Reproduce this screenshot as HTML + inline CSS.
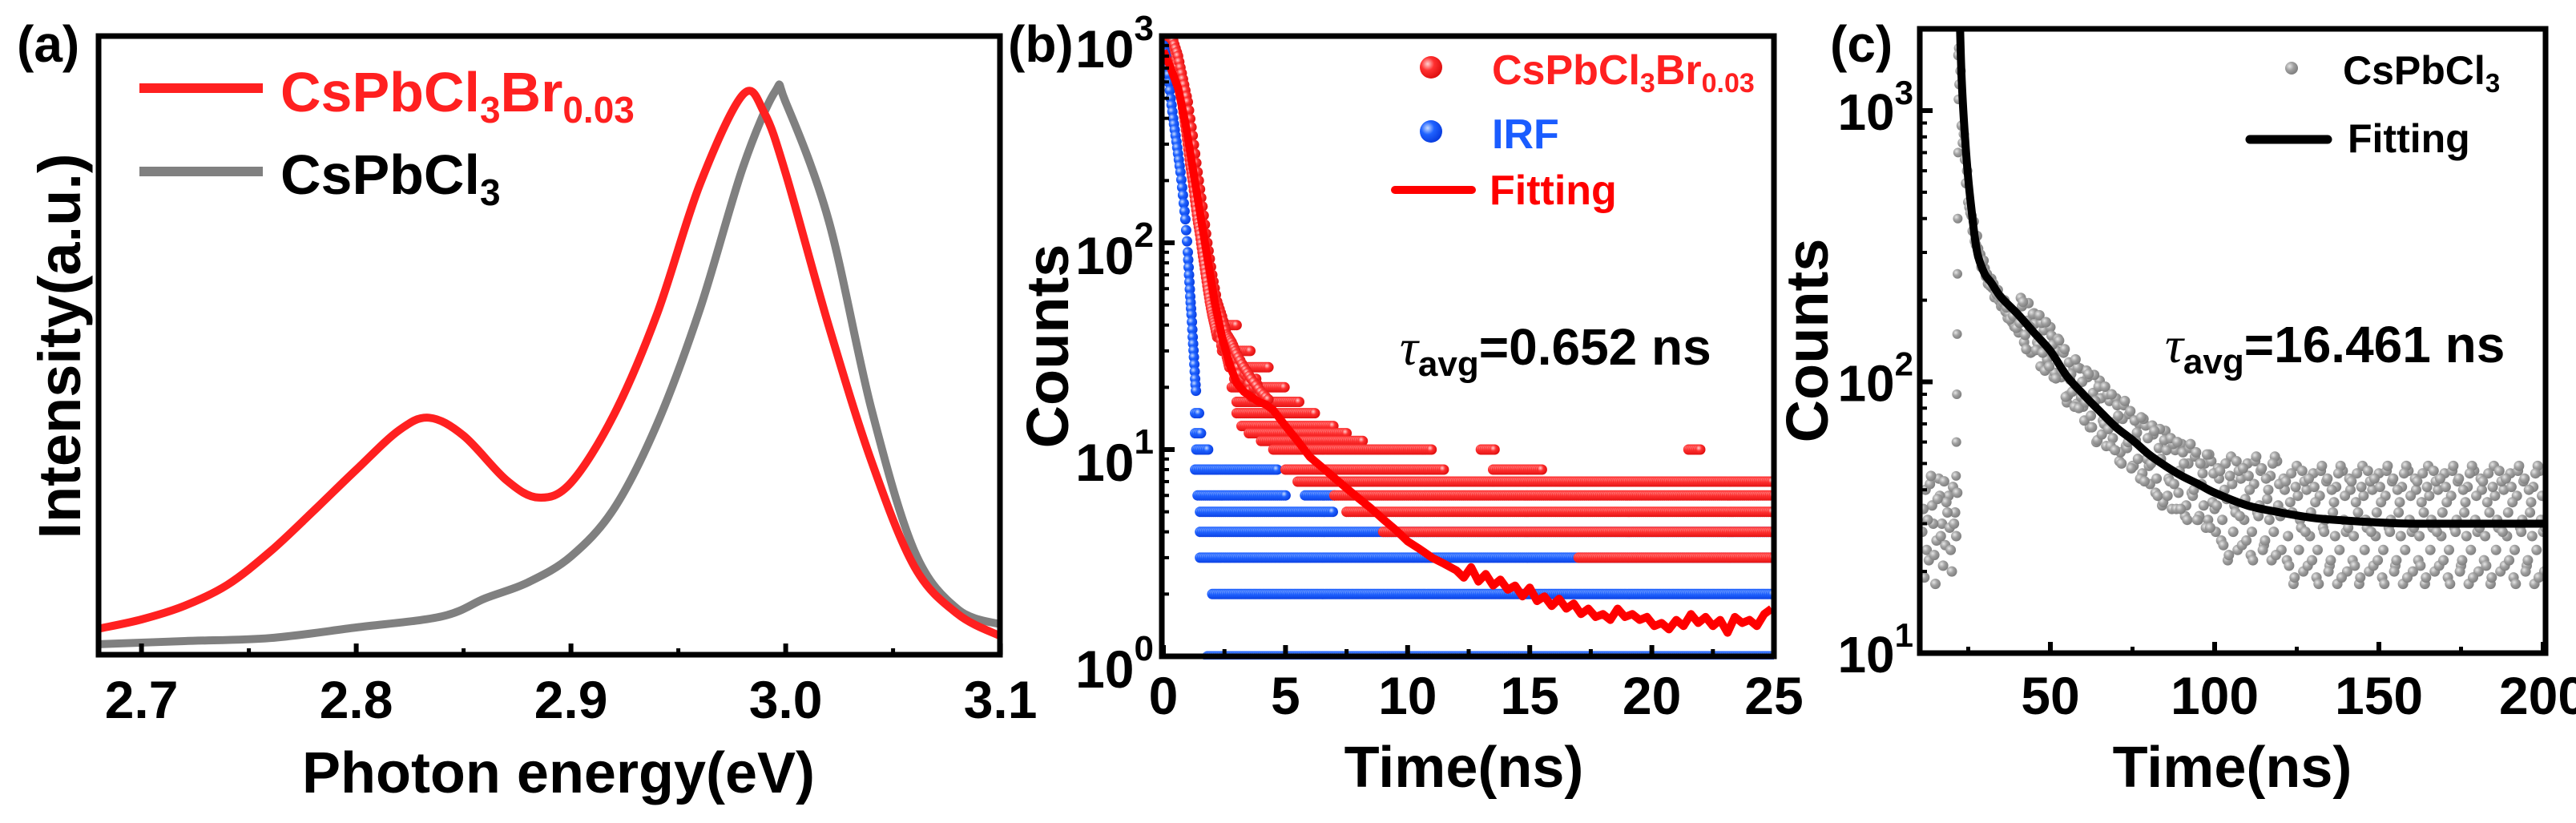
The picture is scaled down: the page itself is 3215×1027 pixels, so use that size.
<!DOCTYPE html>
<html><head><meta charset="utf-8"><style>
html,body{margin:0;padding:0;background:#fff;}
svg{display:block;font-family:"Liberation Sans",Arial,sans-serif;font-weight:bold;}
</style></head><body>
<svg id="fig" width="3215" height="1027" viewBox="0 0 3215 1027" xmlns="http://www.w3.org/2000/svg">
<defs>
<radialGradient id="gR" cx="35%" cy="35%" r="65%"><stop offset="0" stop-color="#ffd0d0"/><stop offset="0.45" stop-color="#ff3030"/><stop offset="1" stop-color="#e01010"/></radialGradient>
<radialGradient id="gB" cx="35%" cy="35%" r="65%"><stop offset="0" stop-color="#c8dcff"/><stop offset="0.45" stop-color="#1f62ff"/><stop offset="1" stop-color="#0a3ee0"/></radialGradient>
<radialGradient id="gG" cx="35%" cy="35%" r="65%"><stop offset="0" stop-color="#e6e6e6"/><stop offset="0.5" stop-color="#a0a0a0"/><stop offset="1" stop-color="#808080"/></radialGradient>
<clipPath id="clipA"><rect x="123" y="45" width="1125" height="772"/></clipPath>
<clipPath id="clipB"><rect x="1450" y="45" width="764" height="778"/></clipPath>
<clipPath id="clipC"><rect x="2396" y="36" width="781" height="779"/></clipPath>
</defs>

<g>
<text x="21" y="77" font-size="64">(a)</text>
<g id="seriesA" clip-path="url(#clipA)"></g>
<g id="ticksA"></g>
<rect x="123" y="45" width="1125" height="772" fill="none" stroke="#000" stroke-width="7"/>
<text transform="translate(100,432) rotate(-90)" text-anchor="middle" font-size="74">Intensity(a.u.)</text>
<text x="697" y="989" text-anchor="middle" font-size="72">Photon energy(eV)</text>
<line x1="174" y1="110" x2="328" y2="110" stroke="#ff2020" stroke-width="12"/>
<text x="350" y="139" font-size="70" fill="#ff2020">CsPbCl<tspan font-size="46" dy="14">3</tspan><tspan dy="-14">Br</tspan><tspan font-size="46" dy="14">0.03</tspan></text>
<line x1="174" y1="214" x2="328" y2="214" stroke="#808080" stroke-width="12"/>
<text x="350" y="242" font-size="70" fill="#000">CsPbCl<tspan font-size="46" dy="14">3</tspan></text>
</g>

<g>
<text x="1258" y="77" font-size="64">(b)</text>
<g id="seriesB" clip-path="url(#clipB)"></g>
<g id="ticksB"></g>
<rect x="1450" y="45" width="764" height="774" fill="none" stroke="#000" stroke-width="7"/>
<text transform="translate(1333,432) rotate(-90)" text-anchor="middle" font-size="74">Counts</text>
<text x="1827" y="982" text-anchor="middle" font-size="72">Time(ns)</text>
<circle cx="1786" cy="84" r="14" fill="url(#gR)"/>
<text x="1862" y="105" font-size="52" fill="#ff2020">CsPbCl<tspan font-size="34" dy="10">3</tspan><tspan dy="-10">Br</tspan><tspan font-size="34" dy="10">0.03</tspan></text>
<circle cx="1786" cy="164" r="14" fill="url(#gB)"/>
<text x="1862" y="185" font-size="52" fill="#1a5cff">IRF</text>
<line x1="1741" y1="237" x2="1837" y2="237" stroke="#ff0000" stroke-width="10" stroke-linecap="round"/>
<text x="1859" y="255" font-size="52" fill="#ff0000">Fitting</text>
<text x="1747" y="455" font-size="64"><tspan font-family="Liberation Serif" font-style="italic" font-weight="normal">τ</tspan><tspan font-size="44" dy="14">avg</tspan><tspan dy="-14">=0.652 ns</tspan></text>
</g>

<g>
<text x="2284" y="77" font-size="64">(c)</text>
<g id="seriesC" clip-path="url(#clipC)"></g>
<g id="ticksC"></g>
<rect x="2396" y="36" width="781" height="779" fill="none" stroke="#000" stroke-width="7"/>
<text transform="translate(2281,425) rotate(-90)" text-anchor="middle" font-size="74">Counts</text>
<text x="2786" y="982" text-anchor="middle" font-size="72">Time(ns)</text>
<circle cx="2860" cy="85" r="8" fill="url(#gG)"/>
<text x="2924" y="105" font-size="50" fill="#000">CsPbCl<tspan font-size="33" dy="10">3</tspan></text>
<line x1="2808" y1="174" x2="2905" y2="174" stroke="#000" stroke-width="11" stroke-linecap="round"/>
<text x="2930" y="190" font-size="50" fill="#000">Fitting</text>
<text x="2702" y="452" font-size="64"><tspan font-family="Liberation Serif" font-style="italic" font-weight="normal">τ</tspan><tspan font-size="44" dy="14">avg</tspan><tspan dy="-14">=16.461 ns</tspan></text>
</g>
</svg>
<script>
// ---------- Panel (a) data ----------
const plEnergy = [2.68,2.70,2.72,2.74,2.76,2.78,2.80,2.82,2.834,2.85,2.87,2.885,2.90,2.92,2.94,2.96,2.98,2.99,3.00,3.02,3.04,3.06,3.08,3.10];
const plRed    = [0.042,0.057,0.079,0.113,0.167,0.232,0.299,0.363,0.383,0.354,0.282,0.254,0.278,0.388,0.55,0.76,0.905,0.876,0.778,0.532,0.312,0.142,0.066,0.03];
const plGrayEnergy = [2.68,2.72,2.76,2.80,2.84,2.86,2.88,2.90,2.92,2.94,2.96,2.98,2.995,3.00,3.02,3.04,3.06,3.08,3.10];
const plGray   = [0.017,0.022,0.027,0.044,0.062,0.091,0.117,0.159,0.236,0.372,0.558,0.787,0.91,0.893,0.702,0.396,0.167,0.074,0.049];
const aTicks = [2.7,2.8,2.9,3.0,3.1];
const aTickLabels = ["2.7","2.8","2.9","3.0","3.1"];

// ---------- Panel (b) data ----------
const redEarlyT = [0.0,0.1,0.2,0.3,0.4,0.5,0.6,0.7,0.8,0.9,1.0,1.1,1.2,1.3,1.4,1.5,1.6,1.7,1.8,1.9,2.0,2.1,2.2,2.3,2.4,2.5,2.6,2.7,2.8,2.9,3.0,3.2,3.4,3.6,3.8,4.0];
const redEarlyC = [700,950,1000,980,900,800,680,560,450,370,300,240,200,160,130,110,90,75,62,52,45,40,35,38,30,34,28,25,30,22,27,20,24,18,22,17];
const redEarly2T = [0.2,0.4,0.6,0.8,1.0,1.2,1.4,1.6,1.8,2.0,2.2,2.4,2.6,2.8,3.0,3.3,3.6,4.0,4.4];
const redEarly2C = [1000,950,800,620,480,330,220,150,100,70,52,44,36,33,29,25,22,19,17];
const redRowC  = [40,30,25,20,17,15,13,12,11,10,10,10,8,8,7,7,6,5,4,3];
const redRowT0 = [2.6,2.6,2.7,2.8,3.0,3.0,3.2,3.5,4.0,4.5,13.0,21.5,5.0,13.5,5.5,13.5,7.0,7.5,9.0,17.0];
const redRowT1 = [3.0,3.6,4.3,5.0,5.6,6.2,7.0,7.5,8.2,11.0,13.6,22.0,11.5,15.5,13.5,25.0,25.0,25.0,25.0,25.0];
const irfEarlyT = [0.0,0.1,0.2,0.3,0.4,0.5,0.6,0.7,0.8,0.9,1.0,1.05,1.1,1.15,1.2,1.25,1.3,1.35];
const irfEarlyC = [900,800,650,500,400,330,270,220,170,130,90,70,55,45,35,28,22,18];
const irfRowC  = [15,12,10,8,6,6,5,4,3,2,1];
const irfRowT0 = [1.3,1.3,1.35,1.3,1.4,5.8,1.5,1.5,1.5,2.0,1.8];
const irfRowT1 = [1.5,1.6,1.9,4.7,5.0,7.0,7.0,25.0,25.0,25.0,25.0];
const fitBT = [0,0.3,0.6,0.9,1.2,1.5,1.8,2.1,2.4,2.7,3.0,3.3,3.6,3.9,4.2,4.5,5.0,5.5,6.0,6.5,7.0,7.5,8.0,8.5,9.0,9.5,10.0,10.5,11.0,11.5,12.0,12.3,12.6,12.9,13.2,13.5,13.8,14.1,14.4,14.7,15.0,15.3,15.6,15.9,16.2,16.5,16.8,17.1,17.4,17.7,18.0,18.3,18.6,18.9,19.2,19.5,19.8,20.1,20.4,20.7,21.0,21.3,21.6,21.9,22.2,22.5,22.8,23.1,23.4,23.7,24.0,24.3,24.6,24.9];
const fitBC = [850,700,560,380,230,140,85,52,35,26,21,19,18,17,16.5,15.5,13,11,9.2,8.2,7.3,6.5,5.8,5.2,4.6,4.1,3.6,3.3,3.0,2.8,2.6,2.4,2.7,2.3,2.5,2.2,2.35,2.1,2.2,1.95,2.15,1.85,1.95,1.75,1.9,1.7,1.8,1.6,1.7,1.55,1.6,1.5,1.7,1.55,1.6,1.5,1.55,1.4,1.45,1.35,1.5,1.4,1.6,1.45,1.55,1.4,1.5,1.3,1.55,1.45,1.5,1.4,1.6,1.7];
const bXTicks = [0,5,10,15,20,25];
const bXTickLabels = ["0","5","10","15","20","25"];
const bYTicks = [0,1,2,3];

// ---------- Panel (c) data ----------
const riseT = [21.3,21.4,21.5,21.6,21.7,21.8,21.9,22.0,22.1,22.2];
const riseC = [45,60,90,150,250,400,700,1100,1700,2100];
const grayStart = 11;
const grayC = [28,40,22,35,18,44,30,25,38,20,33,
1600,880,660,460,410,330,310,265,262,230,240,205,218,190,200,172,185,160,170,
204,140,168,128,179,140,114,155,121,159,104,130,107,128,84,102,113,83,112,81,
110,68,91,60,101,72,58,85,62,87,51,73,58,76,49,61,70,46,69,49,
69,39,57,35,66,44,34,56,39,59,32,50,39,53,31,42,50,31,51,34,
48,26,40,22,53,35,24,44,31,50,23,42,33,47,25,37,45,28,51,32,
44,22,36,18,49,31,20,40,27,46,19,38,29,43,21,33,41,24,47,28,
44,22,36,18,49,31,20,40,27,46,19,38,29,43,21,33,41,24,47,28,
44,22,36,18,49,31,20,40,27,46,19,38,29,43,21,33,41,24,47,28,
44,22,36,18,49,31,20,40,27,46,19,38,29,43,21,33,41,24,47,28];
const grayC2 = [34,24,42,30,26,38,21,36,29,41,27,
1250,760,540,440,360,320,290,275,245,238,222,215,200,192,182,178,166,160,152,
190,149,195,129,164,137,165,110,134,148,108,144,104,132,89,107,81,113,88,72,
104,75,106,61,87,70,90,58,71,82,55,82,57,78,49,65,44,73,52,42,
64,44,67,36,56,43,59,34,47,55,35,57,38,55,32,46,29,54,36,28,
44,31,50,23,42,33,47,25,37,45,28,51,32,48,26,40,22,53,35,24,
40,27,46,19,38,29,43,21,33,41,24,47,28,44,22,36,18,49,31,20,
40,27,46,19,38,29,43,21,33,41,24,47,28,44,22,36,18,49,31,20,
40,27,46,19,38,29,43,21,33,41,24,47,28,44,22,36,18,49,31,20,
40,27,46,19,38,29,43,21,33,41,24,47,28,44,22,36,18,49,31,20];
const grayC3 = [19,31,45,23,37,27,43,33,24,30,39,
1400,820,600,420,390,345,295,280,250,226,230,210,205,196,188,170,175,158,165,
197,132,160,178,131,176,128,166,114,137,103,142,109,88,118,92,121,80,100,84,
107,68,85,96,64,96,67,90,56,75,50,85,60,48,72,52,74,43,62,50,
66,38,52,61,38,62,42,60,34,50,31,59,40,31,50,35,54,29,46,35,
47,25,37,45,28,51,32,48,26,40,22,53,35,24,44,31,50,23,42,33,
43,21,33,41,24,47,28,44,22,36,18,49,31,20,40,27,46,19,38,29,
43,21,33,41,24,47,28,44,22,36,18,49,31,20,40,27,46,19,38,29,
43,21,33,41,24,47,28,44,22,36,18,49,31,20,40,27,46,19,38,29,
43,21,33,41,24,47,28,44,22,36,18,49,31,20,40,27,46,19,38,29];
const fitCT = [22.5,23,24,25,26,27,28,30,32,35,40,45,50,55,60,65,70,75,80,85,90,95,100,110,120,130,140,150,160,180,201];
const fitCC = [2000,1300,800,560,430,340,290,250,232,205,178,152,130,105,90,78,68,61,54,49,45,42,39,35,33,31.5,30.8,30.3,30,30,30];
const cXTicks = [50,100,150,200];
const cXTickLabels = ["50","100","150","200"];
const cYTicks = [1,2,3];

// ---------- helpers ----------
const NS = 'http://www.w3.org/2000/svg';
function mk(tag, parent){ const e = document.createElementNS(NS, tag); parent.appendChild(e); return e; }
function smoothPath(pts){
  let d = 'M' + pts[0][0].toFixed(1) + ',' + pts[0][1].toFixed(1);
  for (let i = 0; i < pts.length - 1; i++){
    const p0 = pts[Math.max(0,i-1)], p1 = pts[i], p2 = pts[i+1], p3 = pts[Math.min(pts.length-1,i+2)];
    const c1x = p1[0] + (p2[0]-p0[0])/6, c1y = p1[1] + (p2[1]-p0[1])/6;
    const c2x = p2[0] - (p3[0]-p1[0])/6, c2y = p2[1] - (p3[1]-p1[1])/6;
    d += ' C' + c1x.toFixed(1)+','+c1y.toFixed(1)+' '+c2x.toFixed(1)+','+c2y.toFixed(1)+' '+p2[0].toFixed(1)+','+p2[1].toFixed(1);
  }
  return d;
}
const xa = E => 123 + (E - 2.68) * 2680;
const ya = I => 817 - I * 772;
const xb = t => 1452 + t * 30.48;
const yb = c => 819 - 258 * Math.log10(c);
const xc = t => 2559 + (t - 50) * 4.1;
const yc = c => 815 - 338.5 * (Math.log10(c) - 1);
function dot(parent, x, y, r, fill){
  const c = mk('circle', parent);
  c.setAttribute('cx', x.toFixed(1)); c.setAttribute('cy', y.toFixed(1)); c.setAttribute('r', r); c.setAttribute('fill', fill);
  return c;
}

// ---------- Panel (a) ----------
const sA = document.getElementById('seriesA');
const pGray = mk('path', sA);
pGray.setAttribute('d', smoothPath(plGrayEnergy.map((e,i)=>[xa(e), ya(plGray[i])])));
pGray.setAttribute('fill','none'); pGray.setAttribute('stroke','#808080'); pGray.setAttribute('stroke-width','10');


const pRed = mk('path', sA);
pRed.setAttribute('d', smoothPath(plEnergy.map((e,i)=>[xa(e), ya(plRed[i])])));
pRed.setAttribute('fill','none'); pRed.setAttribute('stroke','#ff2020'); pRed.setAttribute('stroke-width','10');


const tA = document.getElementById('ticksA');
aTicks.forEach((v,i)=>{
  const l = mk('line', tA);
  l.setAttribute('x1', xa(v)); l.setAttribute('x2', xa(v)); l.setAttribute('y1', 817); l.setAttribute('y2', 803);
  l.setAttribute('stroke','#000'); l.setAttribute('stroke-width','6');
  
  
  const mv = v - 0.05;
  if (mv > 2.68){
    const m = mk('line', tA);
    m.setAttribute('x1', xa(mv)); m.setAttribute('x2', xa(mv)); m.setAttribute('y1', 817); m.setAttribute('y2', 809);
    m.setAttribute('stroke','#000'); m.setAttribute('stroke-width','5');
    
    
  }
  const t = mk('text', tA);
  t.setAttribute('x', xa(v)); t.setAttribute('y', 896); t.setAttribute('text-anchor','middle'); t.setAttribute('font-size','66');
  t.textContent = aTickLabels[i];
  
  
});

// ---------- Panel (b) ----------
const sB = document.getElementById('seriesB');
const R = 6.5;
const gBlueRows = mk('g', sB);


irfRowC.forEach((c,i)=>{ for (let t = irfRowT0[i]; t <= irfRowT1[i] + 1e-9; t += 0.08) dot(gBlueRows, xb(t), yb(c), R, 'url(#gB)'); });
const gRedRows = mk('g', sB);


redRowC.forEach((c,i)=>{ for (let t = redRowT0[i]; t <= redRowT1[i] + 1e-9; t += 0.08) dot(gRedRows, xb(t), yb(c), R, 'url(#gR)'); });
function decayDots(parent, T, C, n, fill){
  for (let i = 0; i < T.length - 1; i++){
    for (let k = 0; k < n; k++){
      const f = k/n, t = T[i] + f*(T[i+1]-T[i]);
      const lc = Math.log10(C[i]) + f*(Math.log10(C[i+1]) - Math.log10(C[i]));
      dot(parent, xb(t), yb(Math.pow(10, lc)), R, fill);
    }
  }
}
const gRedEarly = mk('g', sB);


decayDots(gRedEarly, redEarlyT, redEarlyC, 4, 'url(#gR)');
decayDots(gRedEarly, redEarly2T, redEarly2C, 4, 'url(#gR)');
const gBlueEarly = mk('g', sB);


decayDots(gBlueEarly, irfEarlyT, irfEarlyC, 3, 'url(#gB)');
const fitB = mk('polyline', sB);
fitB.setAttribute('points', fitBT.map((t,i)=> xb(t).toFixed(1)+','+yb(fitBC[i]).toFixed(1)).join(' '));
fitB.setAttribute('fill','none'); fitB.setAttribute('stroke','#ff0000'); fitB.setAttribute('stroke-width','10'); fitB.setAttribute('stroke-linejoin','round');


const tB = document.getElementById('ticksB');
bXTicks.forEach((v,i)=>{
  const l = mk('line', tB);
  l.setAttribute('x1', xb(v)); l.setAttribute('x2', xb(v)); l.setAttribute('y1', 819); l.setAttribute('y2', 805);
  l.setAttribute('stroke','#000'); l.setAttribute('stroke-width','6');
  
  
  const t = mk('text', tB);
  t.setAttribute('x', xb(v)); t.setAttribute('y', 891); t.setAttribute('text-anchor','middle'); t.setAttribute('font-size','66');
  t.textContent = bXTickLabels[i];
  
  
  if (i > 0){
    const m = mk('line', tB);
    m.setAttribute('x1', xb(v-2.5)); m.setAttribute('x2', xb(v-2.5)); m.setAttribute('y1', 819); m.setAttribute('y2', 810);
    m.setAttribute('stroke','#000'); m.setAttribute('stroke-width','5');
    
    
  }
});
bYTicks.forEach((p)=>{
  const y = yb(Math.pow(10,p));
  const l = mk('line', tB);
  l.setAttribute('x1', 1450); l.setAttribute('x2', 1466); l.setAttribute('y1', y); l.setAttribute('y2', y);
  l.setAttribute('stroke','#000'); l.setAttribute('stroke-width','6');
  
  
  const t = mk('text', tB);
  t.setAttribute('x', 1440); t.setAttribute('y', y + 39); t.setAttribute('text-anchor','end'); t.setAttribute('font-size','66');
  t.innerHTML = '10<tspan font-size="44" dy="-34">' + p + '</tspan>';
  
  
  if (p < 3) for (let k = 2; k <= 9; k++){
    const ym = yb(k*Math.pow(10,p));
    const m = mk('line', tB);
    m.setAttribute('x1', 1450); m.setAttribute('x2', 1459); m.setAttribute('y1', ym); m.setAttribute('y2', ym);
    m.setAttribute('stroke','#000'); m.setAttribute('stroke-width','4');
    
    
  }
});

// ---------- Panel (c) ----------
const sC = document.getElementById('seriesC');
const gGray = mk('g', sC);


riseT.forEach((t,i)=> dot(gGray, xc(t), yc(riseC[i]), 6, 'url(#gG)'));
grayC.forEach((c,i)=> dot(gGray, xc(grayStart + i), yc(c), 6.5, 'url(#gG)'));
grayC2.forEach((c,i)=> dot(gGray, xc(grayStart + i + 0.33), yc(c), 6.5, 'url(#gG)'));
grayC3.forEach((c,i)=> dot(gGray, xc(grayStart + i + 0.67), yc(c), 6.5, 'url(#gG)'));
const fitC = mk('path', sC);
fitC.setAttribute('d', smoothPath(fitCT.map((t,i)=>[xc(t), yc(fitCC[i])])));
fitC.setAttribute('fill','none'); fitC.setAttribute('stroke','#000'); fitC.setAttribute('stroke-width','10');


const tC = document.getElementById('ticksC');
cXTicks.forEach((v,i)=>{
  const l = mk('line', tC);
  l.setAttribute('x1', xc(v)); l.setAttribute('x2', xc(v)); l.setAttribute('y1', 815); l.setAttribute('y2', 801);
  l.setAttribute('stroke','#000'); l.setAttribute('stroke-width','6');
  
  
  const m = mk('line', tC);
  m.setAttribute('x1', xc(v-25)); m.setAttribute('x2', xc(v-25)); m.setAttribute('y1', 815); m.setAttribute('y2', 807);
  m.setAttribute('stroke','#000'); m.setAttribute('stroke-width','5');
  
  
  const t = mk('text', tC);
  t.setAttribute('x', xc(v)); t.setAttribute('y', 891); t.setAttribute('text-anchor','middle'); t.setAttribute('font-size','66');
  t.textContent = cXTickLabels[i];
  
  
});
cYTicks.forEach((p)=>{
  const y = yc(Math.pow(10,p));
  const l = mk('line', tC);
  l.setAttribute('x1', 2396); l.setAttribute('x2', 2412); l.setAttribute('y1', y); l.setAttribute('y2', y);
  l.setAttribute('stroke','#000'); l.setAttribute('stroke-width','6');
  
  
  const t = mk('text', tC);
  t.setAttribute('x', 2388); t.setAttribute('y', y + 24); t.setAttribute('text-anchor','end'); t.setAttribute('font-size','64');
  t.innerHTML = '10<tspan font-size="42" dy="-32">' + p + '</tspan>';
  
  
  for (let k = 2; k <= 9; k++){
    const ym = yc(k*Math.pow(10,p));
    if (ym < 40) continue;
    const m = mk('line', tC);
    m.setAttribute('x1', 2396); m.setAttribute('x2', 2405); m.setAttribute('y1', ym); m.setAttribute('y2', ym);
    m.setAttribute('stroke','#000'); m.setAttribute('stroke-width','4');
    
    
  }
});
</script>
</body></html>
